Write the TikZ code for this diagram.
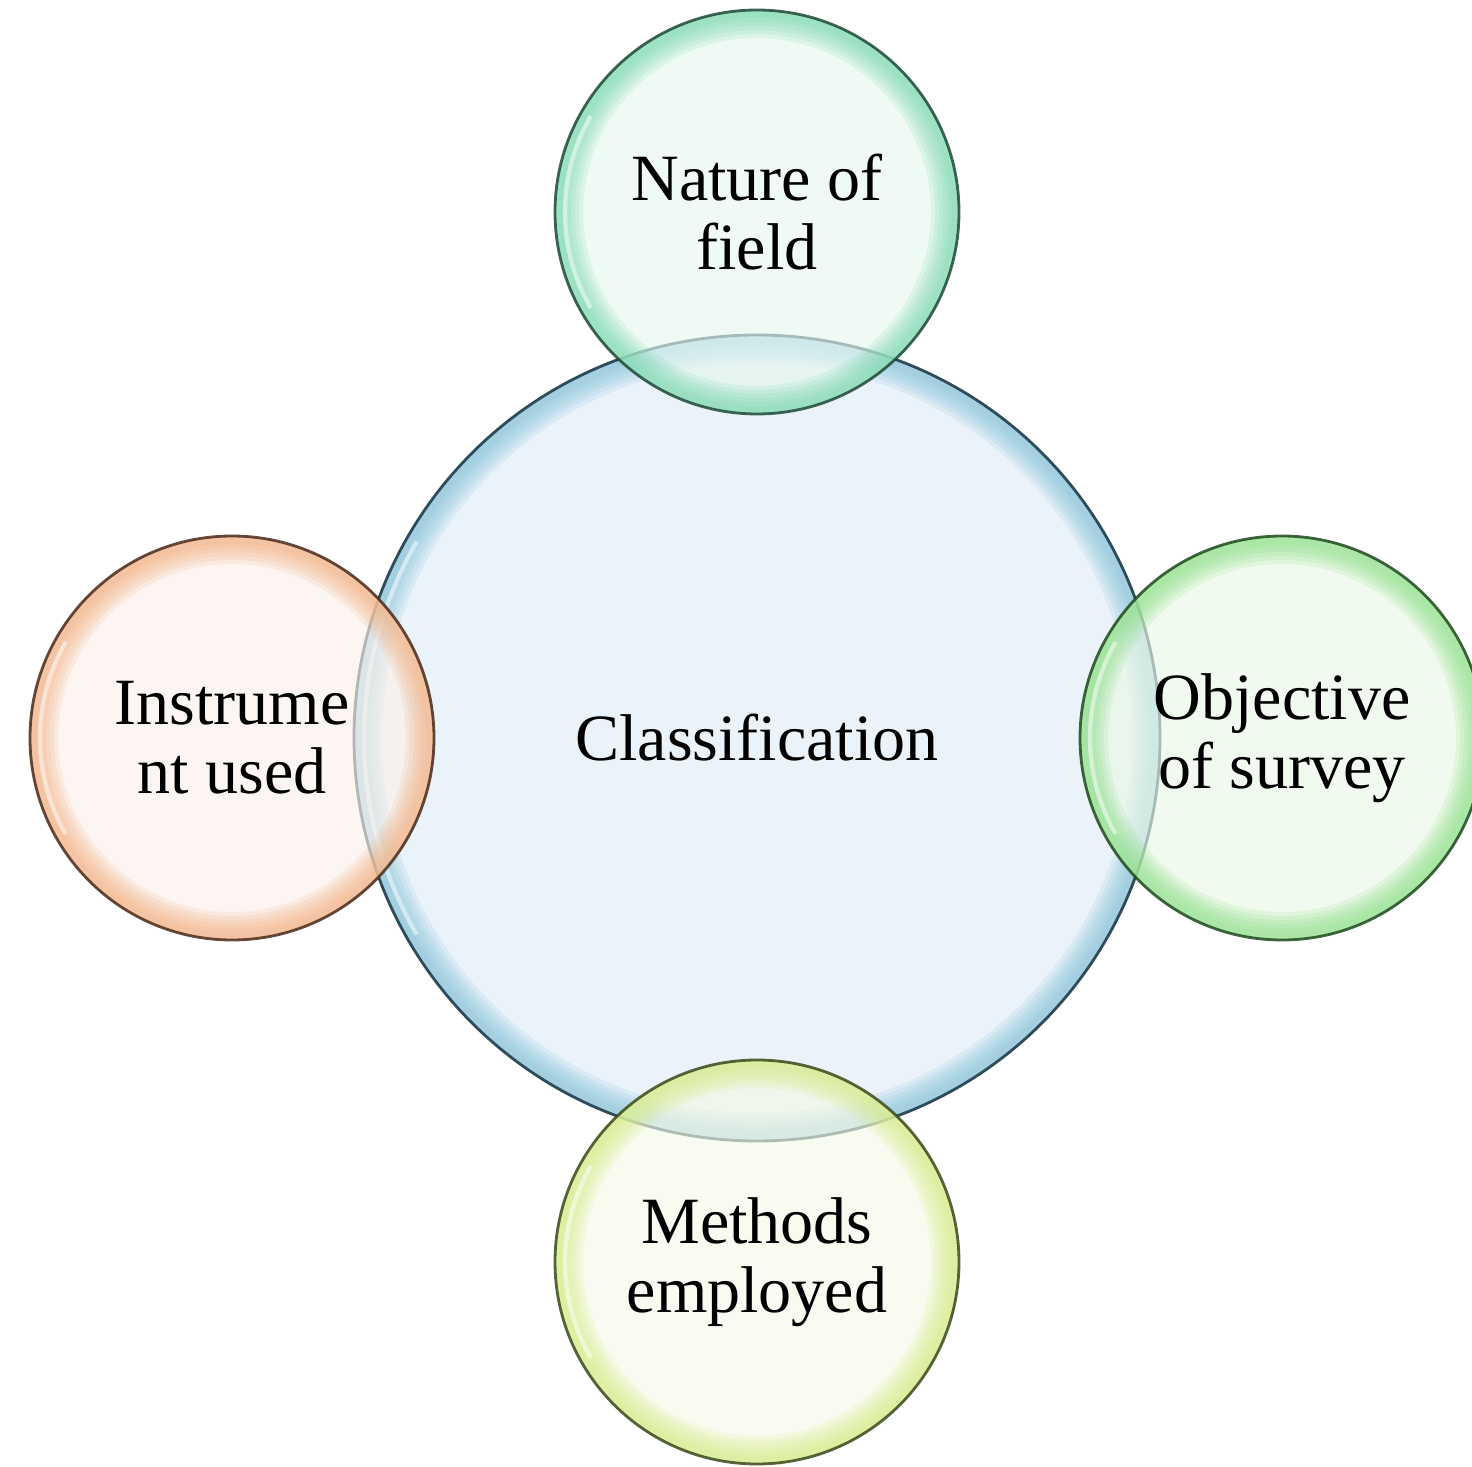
\documentclass[tikz,border=0pt]{standalone}
\usepackage{fontspec}
\setmainfont{Liberation Serif}

\definecolor{clsfill}{HTML}{EBF3FA}
\definecolor{clsring}{HTML}{7FBFD6}
\definecolor{clsdark}{HTML}{2E4C5A}
\definecolor{natfill}{HTML}{E6F7EF}
\definecolor{natring}{HTML}{74D6AC}
\definecolor{natdark}{HTML}{1E4A38}
\definecolor{insfill}{HTML}{FAF0EA}
\definecolor{insring}{HTML}{F2AD7A}
\definecolor{insdark}{HTML}{4A2A1A}
\definecolor{objfill}{HTML}{EAF7E6}
\definecolor{objring}{HTML}{86DE80}
\definecolor{objdark}{HTML}{1E4A1E}
\definecolor{metfill}{HTML}{F4F9E6}
\definecolor{metring}{HTML}{D3EB7E}
\definecolor{metdark}{HTML}{3A4A1A}

\tikzset{
  bubble/.style 2 args={circle, draw=#1dark, fill=#1fill, line width=0.8pt,
    minimum size=#2, inner sep=0pt, align=center,
    font=\fontsize{18.8}{19.6}\selectfont,
    path picture={
      \foreach \w in {0.56,0.48,...,0.08}{
        \draw[#1ring, opacity=0.16, line width=\w cm]
          (path picture bounding box.center) circle[radius=#2/2];
      }
      \draw[white, opacity=0.5, line width=1.2pt]
        (path picture bounding box.center) ++(150:#2/2-0.1cm)
        arc[start angle=150, end angle=210, radius=#2/2-0.1cm];
    }},
  satellite/.style={fill opacity=0.65, draw opacity=0.85, text opacity=1}
}

\begin{document}
\begin{tikzpicture}
\useasboundingbox (0,0) rectangle (14.72,14.66);

% centre
\node[bubble={cls}{8.06cm}] (cls) at (7.57,7.28) {Classification};

% the four around it
\node[bubble={nat}{4.04cm}, satellite] (nature) at (7.57,12.54) {Nature of\\field};
\node[bubble={ins}{4.04cm}, satellite] (instr) at (2.32,7.28) {Instrume\\nt used};
\node[bubble={obj}{4.04cm}, satellite] (obj) at (12.82,7.28) {Objective\\of survey};
\node[bubble={met}{4.04cm}, satellite] (methods) at (7.57,2.04) {Methods\\employed};
\end{tikzpicture}
\end{document}
